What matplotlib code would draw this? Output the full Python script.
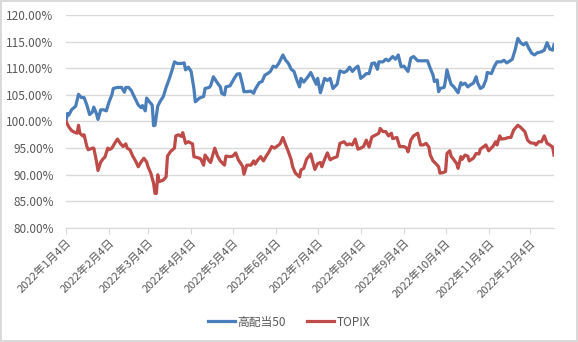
import matplotlib
matplotlib.use("Agg")
import matplotlib.pyplot as plt
import matplotlib.dates as mdates
from matplotlib.ticker import FuncFormatter
import pandas as pd

plt.rcParams['font.family'] = ['Noto Sans CJK JP', 'DejaVu Sans']

start = pd.Timestamp('2022-01-04')

# days after 2022-01-04, value in %
hd_days = [0, 1, 2, 4, 7, 9, 11, 13, 15, 17, 19, 20, 22, 23, 25, 27, 29, 31, 33, 34,
           37, 40, 42, 43, 45, 47, 49, 52, 54, 55, 57, 58, 60, 62, 63, 64, 66, 68, 70, 72,
           74, 76, 78, 80, 83, 85, 86, 88, 90, 92, 93, 96, 99, 100, 103, 104, 106, 109, 111, 112,
           114, 115, 118, 121, 123, 125, 127, 128, 130, 133, 135, 136, 139, 141, 143, 145, 147, 149, 151, 153,
           156, 158, 160, 162, 164, 166, 168, 169, 171, 174, 176, 178, 180, 181, 183, 186, 188, 190, 192, 195,
           197, 200, 202, 204, 206, 208, 210, 212, 214, 216, 218, 220, 222, 224, 225, 228, 230, 232, 235, 237,
           239, 241, 243, 246, 248, 250, 253, 255, 260, 262, 264, 265, 267, 268, 269, 272, 273, 274, 276, 277,
           279, 282, 284, 285, 287, 289, 291, 293, 295, 296, 298, 300, 302, 303, 306, 308, 310, 313, 315, 317,
           320, 321, 323, 325, 327, 329, 331, 333, 335, 337, 339, 342, 344, 346, 348, 350, 351]
hd_vals = [100.0, 101.5, 101.2, 102.2, 102.9, 105.1, 104.5, 104.5, 103.1, 101.3, 101.8, 102.7, 101.4, 100.4, 102.2, 102.2, 102.0, 103.7, 105.0, 106.2,
           106.4, 106.4, 105.5, 106.4, 106.4, 105.8, 104.7, 103.1, 102.6, 103.0, 102.0, 104.4, 103.7, 103.1, 99.2, 99.3, 102.9, 103.9, 104.7, 106.4,
           107.8, 109.4, 111.2, 110.9, 110.9, 111.0, 109.7, 110.2, 109.4, 106.2, 103.7, 104.4, 104.7, 106.2, 106.4, 106.7, 108.4, 107.2, 106.5, 105.3,
           105.0, 106.5, 106.7, 108.1, 108.9, 109.0, 106.9, 105.6, 105.6, 105.7, 105.3, 106.0, 107.3, 107.5, 108.7, 109.0, 109.4, 110.4, 110.2, 110.9,
           112.5, 111.5, 110.9, 109.8, 109.4, 107.8, 106.5, 108.1, 107.4, 108.4, 109.2, 108.1, 107.0, 108.1, 105.4, 108.1, 107.7, 108.1, 106.2, 107.0,
           109.5, 109.2, 109.5, 110.2, 109.4, 110.0, 110.4, 108.1, 108.5, 109.0, 109.0, 110.9, 111.0, 109.8, 111.2, 111.2, 111.7, 111.4, 112.2, 111.7,
           112.5, 110.3, 110.4, 109.4, 111.9, 112.2, 111.4, 111.4, 111.4, 110.0, 108.7, 107.5, 107.8, 105.6, 106.2, 106.4, 107.8, 109.7, 107.8, 107.0,
           106.5, 105.4, 107.3, 106.9, 107.2, 106.5, 106.9, 107.2, 108.4, 107.3, 106.2, 106.5, 107.8, 109.2, 109.0, 110.3, 111.2, 111.2, 111.5, 111.0,
           111.5, 111.7, 113.4, 115.6, 114.8, 114.4, 114.8, 113.7, 112.8, 112.5, 112.9, 113.1, 113.4, 114.8, 113.6, 113.4, 114.4]

tp_days = [0, 2, 4, 6, 8, 9, 10, 12, 13, 15, 16, 19, 20, 22, 23, 25, 27, 28, 30, 31,
           33, 35, 37, 39, 41, 43, 44, 46, 48, 50, 52, 54, 56, 58, 59, 61, 63, 64, 65, 66,
           67, 70, 72, 73, 75, 78, 79, 81, 83, 84, 86, 88, 91, 92, 96, 97, 99, 100, 103, 104,
           107, 109, 111, 114, 115, 118, 120, 122, 124, 127, 128, 130, 133, 135, 136, 138, 140, 142, 144, 146,
           148, 150, 152, 154, 156, 158, 160, 162, 163, 165, 168, 169, 171, 173, 176, 177, 179, 181, 183, 184,
           186, 188, 190, 192, 195, 197, 200, 202, 204, 206, 208, 210, 212, 214, 216, 218, 220, 223, 225, 226,
           228, 230, 232, 234, 235, 238, 240, 243, 245, 246, 248, 250, 253, 255, 257, 259, 261, 262, 264, 266,
           268, 269, 271, 273, 274, 276, 277, 279, 281, 282, 284, 285, 287, 289, 290, 293, 295, 297, 298, 300,
           302, 304, 307, 309, 310, 312, 313, 316, 318, 320, 322, 325, 327, 330, 332, 334, 337, 338, 340, 342,
           344, 346, 348, 350, 351]
tp_vals = [100.0, 99.0, 98.3, 98.0, 97.8, 99.3, 97.8, 97.3, 97.5, 95.3, 94.7, 95.0, 95.0, 92.4, 90.8, 92.4, 93.1, 93.3, 95.0, 94.7,
           95.0, 95.9, 96.7, 95.9, 95.3, 95.8, 95.0, 94.7, 93.5, 92.6, 91.5, 92.4, 93.1, 92.4, 91.5, 90.3, 88.4, 86.5, 86.5, 90.0,
           88.7, 89.0, 89.6, 93.5, 94.3, 95.0, 97.3, 97.5, 97.2, 97.9, 95.9, 96.2, 95.8, 93.4, 93.1, 92.9, 91.8, 93.7, 92.6, 92.3,
           95.0, 93.5, 92.6, 91.8, 93.5, 93.4, 93.5, 94.1, 92.8, 91.6, 90.1, 91.8, 91.8, 92.6, 92.0, 92.8, 93.4, 92.6, 93.5, 94.3,
           95.3, 95.0, 95.4, 95.8, 97.0, 95.6, 94.3, 92.8, 91.5, 90.3, 89.6, 90.9, 91.2, 92.9, 93.9, 92.9, 91.0, 92.1, 92.3, 91.5,
           92.9, 94.1, 92.8, 93.1, 93.4, 95.9, 96.2, 95.6, 95.8, 95.6, 96.7, 94.8, 95.0, 95.3, 96.5, 95.2, 97.1, 97.5, 97.8, 98.7,
           98.1, 98.1, 97.3, 97.8, 96.8, 97.0, 95.3, 95.3, 95.0, 94.3, 96.5, 97.3, 97.8, 95.6, 95.6, 95.9, 95.2, 93.7, 92.6, 92.1,
           91.5, 90.3, 90.4, 90.6, 94.0, 94.5, 93.5, 92.8, 92.1, 91.2, 93.4, 92.9, 93.7, 93.5, 92.6, 93.1, 94.0, 93.9, 94.8, 95.2,
           95.6, 94.5, 95.3, 96.2, 95.6, 97.3, 96.7, 96.8, 97.0, 97.0, 98.4, 99.3, 98.9, 98.1, 96.5, 96.0, 95.9, 95.6, 96.2, 96.2,
           97.3, 95.9, 95.6, 95.2, 93.7]

series_names = ['高配当50', 'TOPIX']
tick_dates = pd.date_range('2022-01-04', periods=12, freq=pd.DateOffset(months=1))

hd_x = start + pd.to_timedelta(hd_days, unit='D')
tp_x = start + pd.to_timedelta(tp_days, unit='D')

fig = plt.figure(figsize=(5.78, 3.42), dpi=100, edgecolor='#d9d9d9', linewidth=1.5)
ax = fig.add_axes([66 / 578, 1 - 228 / 342, (554 - 66) / 578, (228 - 15) / 342])

ax.plot(hd_x, hd_vals, color='#4a7ebb', lw=2.3, label=series_names[0], solid_joinstyle='round')
ax.plot(tp_x, tp_vals, color='#be4b48', lw=2.3, label=series_names[1], solid_joinstyle='round')

ax.set_ylim(80, 120)
ax.set_yticks(range(80, 121, 5))
ax.yaxis.set_major_formatter(FuncFormatter(lambda v, p: f'{v:.2f}%'))
ax.set_xlim(hd_x[0], hd_x[-1])
ax.set_xticks(tick_dates)
ax.set_xticklabels([f'{d.year}年{d.month}月{d.day}日' for d in tick_dates],
                   rotation=45, ha='right', rotation_mode='anchor')

ax.grid(axis='y', color='#d9d9d9', lw=1)
ax.set_axisbelow(True)
for s in ['top', 'right', 'left']:
    ax.spines[s].set_visible(False)
ax.spines['bottom'].set_color('#d9d9d9')
ax.tick_params(axis='y', length=0, pad=9, labelsize=8.5, labelcolor='#595959')
ax.tick_params(axis='x', length=4, color='#d9d9d9', pad=3, labelsize=8, labelcolor='#595959')

fig.legend(loc='center', bbox_to_anchor=(0.5, 1 - 322 / 342), ncol=2, frameon=False,
           fontsize=8.5, handlelength=2.3, columnspacing=1.8, handletextpad=0.2,
           labelcolor='#595959')

fig.savefig('out.png', dpi=100)
